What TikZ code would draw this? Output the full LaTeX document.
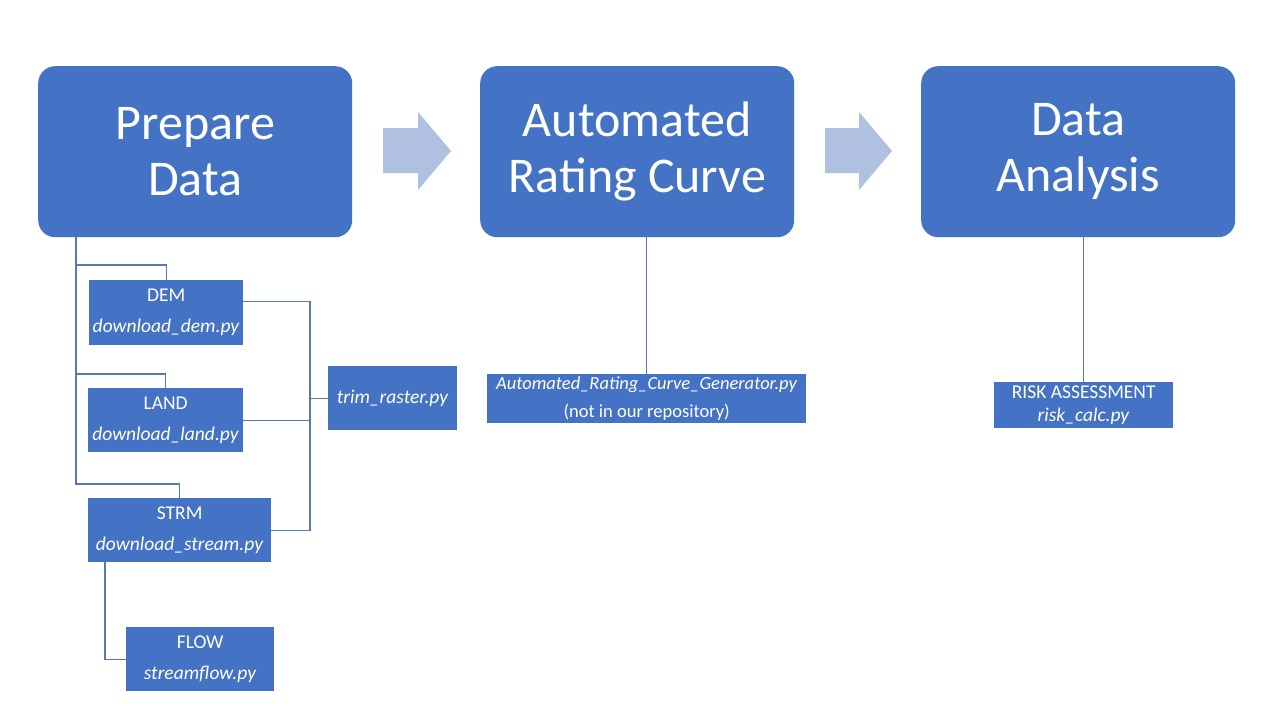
\documentclass[tikz,border=0pt]{standalone}
\usepackage{fontspec}
\setmainfont{Carlito}
\definecolor{boxblue}{HTML}{4472C4}
\definecolor{arrowblue}{HTML}{B0C0E0}
\definecolor{linecol}{HTML}{5878B2}
\tikzset{
  bigbox/.style={fill=boxblue, rounded corners=17pt, minimum width=314pt, minimum height=171pt, inner sep=0pt, anchor=north west, text=white, align=center, font=\fontsize{50}{56}\selectfont},
  smallbox/.style={fill=boxblue, inner sep=0pt, anchor=north west, text=white, align=center, font=\fontsize{19.5}{31}\selectfont},
  conn/.style={draw=linecol, line width=1.3pt},
  arrowshape/.style={fill=arrowblue, draw=none}
}
\begin{document}
\begin{tikzpicture}[x=1pt, y=-1pt]
\useasboundingbox (0,0) rectangle (1280,720);
\fill[white] (0,0) rectangle (1280,720);

% main boxes
\node[bigbox] (prep) at (38,66) {Prepare\\Data};
\node[bigbox] (arc) at (480,66) {Automated\\Rating Curve};
\node[bigbox] (da) at (921,66) {Data\\Analysis};

% block arrows
\path[arrowshape] (383,128) -- (418,128) -- (418,112) -- (451,151) -- (418,190) -- (418,173) -- (383,173) -- cycle;
\path[arrowshape] (825,128) -- (859,128) -- (859,112) -- (892,151) -- (859,190) -- (859,173) -- (825,173) -- cycle;

% small boxes
\node[smallbox, minimum width=154pt, minimum height=65pt] (dem) at (89,280) {DEM\\\textit{download\_dem.py}};
\node[smallbox, minimum width=155pt, minimum height=64pt] (land) at (88,388) {LAND\\\textit{download\_land.py}};
\node[smallbox, minimum width=183pt, minimum height=64pt] (strm) at (88,498) {STRM\\\textit{download\_stream.py}};
\node[smallbox, minimum width=148pt, minimum height=64pt] (flow) at (126,627) {FLOW\\\textit{streamflow.py}};
\node[smallbox, minimum width=129pt, minimum height=64pt] (trim) at (328,366) {\textit{trim\_raster.py}};
\node[smallbox, minimum width=319pt, minimum height=49pt, font=\fontsize{18.5}{28}\selectfont] (gen) at (487,374) {\textit{Automated\_Rating\_Curve\_Generator.py}\\(not in our repository)};
\node[smallbox, minimum width=179pt, minimum height=46pt, font=\fontsize{19.5}{23}\selectfont] (risk) at (994,382) {RISK ASSESSMENT\\\textit{risk\_calc.py}};

% connectors
\coordinate (trunk) at ([xshift=38pt]prep.south west);
\draw[conn] (trunk) |- ([yshift=14pt]strm.north) -- (strm.north);
\draw[conn] (dem.north) -- ([yshift=15pt]dem.north) -| (trunk);
\draw[conn] (land.north) -- ([yshift=14pt]land.north) -| (trunk);

\coordinate (bus) at ([xshift=-18pt]trim.west);
\draw[conn] ([yshift=11pt]dem.east) -| (bus |- strm.east) -- (strm.east);
\draw[conn] (land.east) -- (bus |- land.east);
\draw[conn] (bus) -- (trim.west);

\draw[conn] ([xshift=17pt]strm.south west) |- (flow.west);

\draw[conn] (gen.north) -- (gen.north |- arc.south);
\draw[conn] (risk.north) -- (risk.north |- da.south);
\end{tikzpicture}
\end{document}
